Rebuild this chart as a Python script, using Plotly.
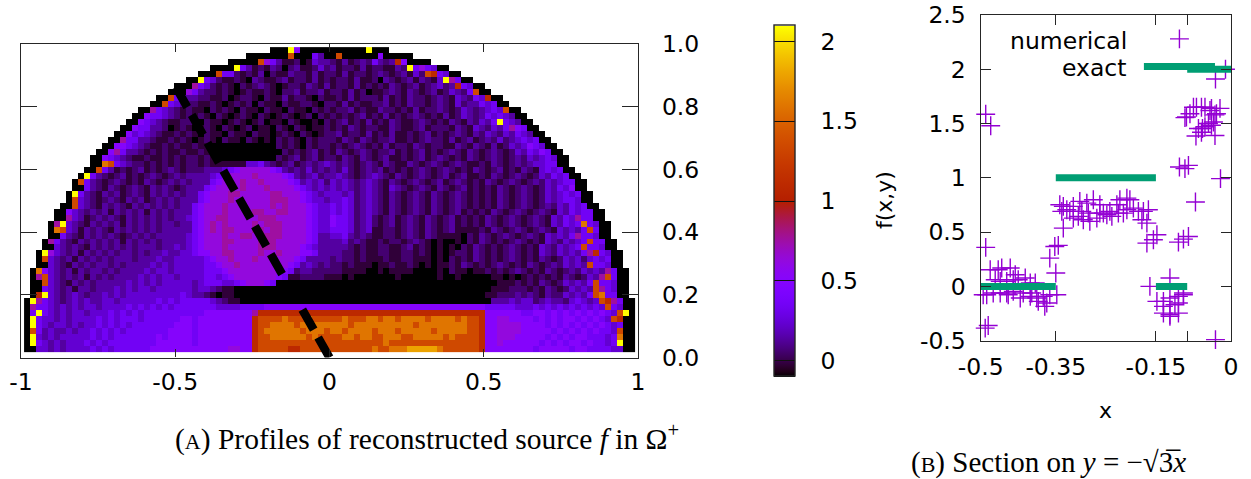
import numpy as np
import plotly.graph_objects as go

W, H = 1251, 479

# value of each character used in the source-profile rows
level_values = {'0': -0.1, '1': -0.02, '2': 0.06, '3': 0.14, '4': 0.24, '5': 0.35, '6': 0.5,
                '7': 0.63, '8': 0.76, '9': 1.1, 'a': 1.35, 'b': 1.6, 'c': 1.8, 'd': 2.1}

# rows of the source profile, top to bottom: "outer:inner|right"; "|" is x = 0, ":" is 23 cells left of it
source_rows = [
 "000d600000|000000d000",
 "0000000a000530|0a000000600000",
 "00000a75311201433|21312325323960000",
 "0000d531213202311242|3122131221132d575400",
 "000a552121302113221312|2131221232123142a95400",
 "0:0d542112103211231221312|1221311203212313214d8500",
 "000:85421210212321012213213|12213121213212312342395400",
 "0007:53221210121121022312231|221312011232132123124325a00",
 "00a543:32211201221021131221021|12131222131213221232143254900",
 "00a5432:21121012120211021122102|213121122312132212321423354500",
 "008543212:11021210211021102110212|12231211322121312232124323454a00",
 "0065543212:12102101210210121012021|212123121312123212131243235454300",
 "00654321122:10211012101201102100102|1231213121321123212132132435d54300",
 "006553320121:01210210120110210210112|12132122113211231222132143243586500",
 "0064543211212:10211021102110121021012|231221312131121231212321324324354300",
 "00855332112121:01210211021010212102122|2132132122311212322131231232423454500",
 "006654321121211:21100000000000212102122|12123212131221321221132132131243465400",
 "0068533212121121:12100000000000021212312|132123212231212312123213212321243546500",
 "00654321121121212:21210000000000212312312|2132132123112123123212132123212324345400",
 "00ba5432212121212:21211111144532123123234|3232123213211321232123211213212323445500",
 "00a531212312123212:22333456777776532324232|32421232312121232123212132123121321454500",
 "0d53212312123212323:33345677778777765323423|343212343213212321231231121321232124354500",
 "0a532123212132123232:33356777877877776534342|4343234321321232123123212132123212324345500",
 "00532132123213232123:33567777877787777654343|4343234321432123213212312121321232124354600",
 "0d5321323123213232323:35677788777778877765434|44342343213212321321232121213212321243454500",
 "0a4321232132312323233:35677787777778887765443|44542343213212321321232121213212321243455400",
 "00a4321323213232323233:56777877777778787776544|545423432132123213212321212132123212324354500",
 "00643232313232313232333:56777877778877887776544|5454234321321232132123121213212321232143545500",
 "00843123232132323232334:56778877777888777776544|6554234212312321321231212132123212321435485500",
 "08d432132323132323233233:56787877778788877776544|655423421231232132123121213212321232143545b5400",
 "0ba431323213232323233333:56787887778878877776544|5554234112212321321231111213212321232143435a500",
 "005321323232123232333334:56777877887788877776533|44532321122123213211110213212321232143435855400",
 "0853213232323132323233334:56777887777888777776533|3342321121221232101001021321212321214324345a5500",
 "0043232132323232333233434:56777877777888777765433|333212112211231210101021321212321214324345a55400",
 "0d743231323232332323343344:56677887777877877766533|3322121122112212101012213212123212143243435895400",
 "0a432313232323332333433444:44567787778777777653333|2322121112112211101021213212123212132124342454500",
 "00432132323323233334343444:44556778777777776534323|2212111011211210101121321212321213212324343a55400",
 "0b6432313233232333343443444:44555677777777765233222|22111100101111000010211011212123212132123243438500",
 "08a432323132323333434344344:44554567777777651122221|1101000000010000001001000001101012121213212438a500",
 "00a432132323333343434344444:34555445677765000000000|00000000000000000000000000001112121321243435a55400",
 "005432313323334343443444444:34432110000000000000000|00000000000000000000000000011122212132124343a85400",
 "09d432343233434344444444454:33210110000000000000000|00000000000000000000000000112223232132243435ab5500",
 "0d85432343433443444444545455:55543211000000000000000|000000000000000000000000000333434423433245434a98500",
 "0855434343443444454545454555:55554444555566666666666|6666666666666666666666666655555444545454545454a5400",
 "05d5434344344454545455555555:55666666668999999999999|999999999999999999999999996666665566565656565654ad0",
 "0d54434344445454555455555566:56666666669aaaabaaabaaa|aabaaabbabbabbbbabbbbabaa9667766665656566565654a900",
 "0d54344343445454545555555666:56666666669aabbbbabbbbb|bbbabbbbbbbbbbabbbbbbbbaa96677776666565656565654500",
 "0a53433434454545455555556666:56666666669abbbbbbabbba|bbabbbbabbbabbbbbabbbbbaa96677776666656565656554a00",
 "0d43434444454545555555656666:56666666669aabbbbbbabaa|aabbabbaabbbaabbbbbabaaaa96677766666565656655545b00",
 "0d54343444545455555555666666:56666666669aaaaaaaaaaaa|aaaaaaaaabaaaaaaaaaaaaaaa96676666665656566565545d00",
 "0044343444454545555556666666:66666677669aaaaa99aaaaa|aaaaaaabaabbbcccccbaaaaaa96666666656666656655554400",
]

# dashed section line in panel (A), from the origin to the arc
section_x = [0, -0.5]
section_y = [0, 0.866]

left_x_ticks = [-1, -0.5, 0, 0.5, 1]
left_x_labels = ["-1", "-0.5", "0", "0.5", "1"]
left_y_ticks = [0.0, 0.2, 0.4, 0.6, 0.8, 1.0]
bar_ticks = [0, 0.5, 1, 1.5, 2]
bar_labels = ["0", "0.5", "1", "1.5", "2"]

right_x_ticks = [-0.5, -0.35, -0.15, -0.0875, 0]
right_x_labels = ["-0.5", "-0.35", "-0.15", "", "0"]
right_y_ticks = [-0.5, 0, 0.5, 1, 1.5, 2, 2.5]
right_y_labels = ["-0.5", "0", "0.5", "1", "1.5", "2", "2.5"]

numerical_x = [-0.49, -0.48, -0.011, -0.031, -0.089, -0.092, -0.082, -0.075, -0.069, -0.059, -0.052, -0.042,
               -0.039, -0.022, -0.029, -0.032, -0.035, -0.045, -0.052, -0.057, -0.065, -0.032, -0.07, -0.039, -0.059,
               -0.103, -0.092, -0.085, -0.021,
               -0.49, -0.485, -0.491,
               -0.481, -0.465, -0.458, -0.441, -0.431, -0.411, -0.471, -0.461, -0.448, -0.435, -0.425, -0.401,
               -0.495, -0.488, -0.461, -0.445, -0.421, -0.401, -0.388, -0.375, -0.372, -0.385, -0.362, -0.348,
               -0.368, -0.398, -0.415, -0.435, -0.448, -0.475, -0.391,
               -0.362, -0.35, -0.345, -0.352, -0.335,
               -0.342, -0.335, -0.328, -0.338, -0.322, -0.315, -0.302, -0.288, -0.275, -0.262, -0.305, -0.295,
               -0.282, -0.268, -0.315, -0.255, -0.242, -0.238, -0.225, -0.215, -0.222, -0.208, -0.202, -0.195,
               -0.185, -0.175, -0.165, -0.178, -0.168, -0.208, -0.228, -0.248, -0.262, -0.285, -0.298,
               -0.148, -0.155, -0.168, -0.162,
               -0.105, -0.095, -0.085, -0.071,
               -0.122, -0.135, -0.148, -0.122, -0.105, -0.095, -0.112, -0.135, -0.122, -0.122, -0.105, -0.095,
               -0.135, -0.105, -0.031]
numerical_y = [1.586, 1.48, 2.0, 1.91, 1.56, 1.555, 1.59, 1.65, 1.65, 1.65, 1.65, 1.62,
               1.64, 1.64, 1.59, 1.58, 1.515, 1.50, 1.47, 1.455, 1.455, 1.39, 1.386, 1.485, 1.42,
               1.10, 1.085, 1.115, 0.993,
               0.36, -0.36, -0.384,
               0.153, 0.153, 0.169, 0.169, 0.107, 0.077, 0.061, 0.046, 0.046, 0.061, 0.061, 0.031,
               -0.077, -0.077, -0.061, -0.077, -0.107, -0.092, -0.107, -0.092, -0.184, -0.138, -0.077, -0.077,
               -0.153, -0.061, -0.061, -0.046, -0.061, -0.061, 0.031,
               0.261, 0.123, 0.378, 0.368, 0.537,
               0.752, 0.737, 0.706, 0.691, 0.691, 0.737, 0.783, 0.767, 0.798, 0.752, 0.645, 0.614,
               0.599, 0.629, 0.629, 0.675, 0.691, 0.645, 0.675, 0.675, 0.798, 0.813, 0.798, 0.721,
               0.691, 0.691, 0.706, 0.614, 0.583, 0.706, 0.752, 0.66, 0.675, 0.675, 0.691,
               0.476, 0.43, 0.399, 0.0,
               0.408, 0.436, 0.46, 0.777,
               0.077, -0.138, -0.138, -0.107, -0.092, -0.077, -0.169, -0.246, -0.261, -0.276, -0.246, -0.061,
               -0.184, -0.153, -0.49]

exact_x = [-0.5, -0.35, None, -0.35, -0.15, None, -0.15, -0.0875, None, -0.0875, 0]
exact_y = [0, 0, None, 1, 1, None, 0, 0, None, 2, 2]

key_numerical_x = [-0.103]
key_numerical_y = [2.28]
key_exact_x = [-0.174, -0.032]
key_exact_y = [2.025, 2.025]

# ---------- grid of the source profile ----------
rows = []
for text in source_rows:
    left, right = text.split('|')
    if ':' in left:
        outer, inner = left.split(':')
        cells = outer.rjust(28) + inner[:23].ljust(23)
    else:
        cells = left.rjust(51)
    cells += right[:51].ljust(51)
    rows.append([level_values.get(c) for c in cells])
z = np.array(rows[::-1], dtype=float)
ny, nx = z.shape
gx0, gx1, gy0, gy1 = -0.99, 0.99, 0.018, 0.99
dx, dy = (gx1 - gx0) / nx, (gy1 - gy0) / ny

# gnuplot palette rgbformulae 7,5,15 over cbrange
stops = np.linspace(0, 1, 65)
colorscale = [[float(g), f"rgb({int(255*g**0.5)},{int(255*g**3)},{int(255*max(np.sin(2*np.pi*g),0))})"]
              for g in stops]


def px(a, b, size):
    return [a / size, b / size]


def py(top, bottom):
    return [1 - bottom / H, 1 - top / H]


FONT = "DejaVu Sans"
SERIF = "Liberation Serif"
FS = 23.5
LINE = "#262626"
PURPLE = "#9400d3"
GREEN = "#009e73"

fig = go.Figure()
fig.add_trace(go.Heatmap(
    z=z, x0=gx0 + dx / 2, dx=dx, y0=gy0 + dy / 2, dy=dy, xaxis="x", yaxis="y",
    colorscale=colorscale, zmin=-0.1, zmax=2.1, hoverongaps=False,
    colorbar=dict(x=774 / W, xanchor="left", xpad=0, ypad=0, thickness=21, thicknessmode="pixels",
                  len=351, lenmode="pixels", y=1 - 201 / H, yanchor="middle",
                  tickvals=bar_ticks, ticktext=["\u00a0\u00a0\u2009" + t for t in bar_labels],
                  ticks="inside", ticklen=21, tickwidth=1, tickcolor="#111",
                  outlinewidth=1.4, outlinecolor=LINE, tickfont=dict(family=FONT, size=FS, color="#000")),
))
fig.add_trace(go.Scatter(x=section_x, y=section_y, xaxis="x", yaxis="y", mode="lines",
                         line=dict(color="#000", width=8.5, dash="23px,9px"), showlegend=False))
# empty trace so that the dotted-grid subplot (which stops below the key) exists
fig.add_trace(go.Scatter(x=[None], y=[None], xaxis="x2", yaxis="y2", mode="lines", showlegend=False))
cross = dict(symbol="cross-thin", size=13.5, line=dict(color=PURPLE, width=1.4), color=PURPLE)
fig.add_trace(go.Scatter(x=numerical_x, y=numerical_y, xaxis="x3", yaxis="y3", mode="markers",
                         marker=cross, cliponaxis=False, showlegend=False))
fig.add_trace(go.Scatter(x=exact_x, y=exact_y, xaxis="x3", yaxis="y3", mode="lines",
                         line=dict(color=GREEN, width=7), showlegend=False))
fig.add_trace(go.Scatter(x=key_numerical_x, y=key_numerical_y, xaxis="x3", yaxis="y3", mode="markers",
                         marker=cross, showlegend=False))
fig.add_trace(go.Scatter(x=key_exact_x, y=key_exact_y, xaxis="x3", yaxis="y3", mode="lines",
                         line=dict(color=GREEN, width=7), showlegend=False))

frame = dict(showline=True, mirror="allticks", linewidth=1.4, linecolor=LINE, ticks="inside",
             tickwidth=1.4, tickcolor=LINE, showgrid=False, zeroline=False,
             tickfont=dict(family=FONT, size=FS, color="#000"))

right_dom_x = px(980.7, 1231, W)
axes = dict(
    xaxis=dict(frame, domain=px(21, 638, W), range=[-1, 1], tickvals=left_x_ticks, ticktext=left_x_labels,
               ticklen=8, anchor="y", ticklabelstandoff=3),
    yaxis=dict(frame, domain=py(44, 357.5), range=[0, 1], tickvals=left_y_ticks,
               ticktext=[f"{v:.1f}" for v in left_y_ticks], ticklen=16, anchor="x", side="right",
               ticklabelstandoff=18),
    xaxis2=dict(domain=right_dom_x, range=[-0.5, 0], tickvals=right_x_ticks, ticks="", showticklabels=False,
                showline=False, zeroline=False, showgrid=True, gridcolor="#808080", gridwidth=1,
                griddash="1px,6px", anchor="y2"),
    yaxis2=dict(domain=py(83, 340.7), range=[-0.5, 1.874], tickvals=right_y_ticks, ticks="",
                showticklabels=False, showline=False, zeroline=False, showgrid=True, gridcolor="#808080",
                gridwidth=1, griddash="1px,6px", anchor="x2"),
    xaxis3=dict(frame, domain=right_dom_x, range=[-0.5, 0], tickvals=right_x_ticks, ticktext=right_x_labels,
                ticklen=10, anchor="y3", ticklabelstandoff=5),
    yaxis3=dict(frame, domain=py(15, 340.7), range=[-0.5, 2.5], tickvals=right_y_ticks,
                ticktext=right_y_labels, ticklen=10, anchor="x3", ticklabelstandoff=9),
)


def note(text, x, y, size=FS, family=FONT, xanchor="center", angle=0):
    return dict(text=text, x=x / W, y=1 - y / H, xref="paper", yref="paper", showarrow=False, xanchor=xanchor,
                yanchor="middle", textangle=angle, font=dict(family=family, size=size, color="#000"))


annotations = [
    note("f(x,y)", 884, 200, size=22, angle=-90),
    note("x", 1105, 410, size=22),
    note("numerical", 1129, 41, xanchor="right"),
    note("exact", 1129, 68, xanchor="right"),
    note("(<span style='font-size:22px'>A</span>) Profiles of reconstructed source <i>f</i> in \u03a9<sup>+</sup>",
         427, 437, size=29.5, family=SERIF),
    note("(<span style='font-size:22px'>B</span>) Section on <i>y</i> = \u2212\u221a3\u0305<i>x</i>",
         1048, 462, size=29, family=SERIF),
]

fig.update_layout(width=W, height=H, margin=dict(l=0, r=0, t=0, b=0, autoexpand=False), autosize=False,
                  paper_bgcolor="white", plot_bgcolor="white", showlegend=False,
                  annotations=annotations, **axes)

fig.write_html("out.html", config={"displayModeBar": False},
               post_script="document.body.style.margin='0';document.documentElement.style.overflow='hidden';")
